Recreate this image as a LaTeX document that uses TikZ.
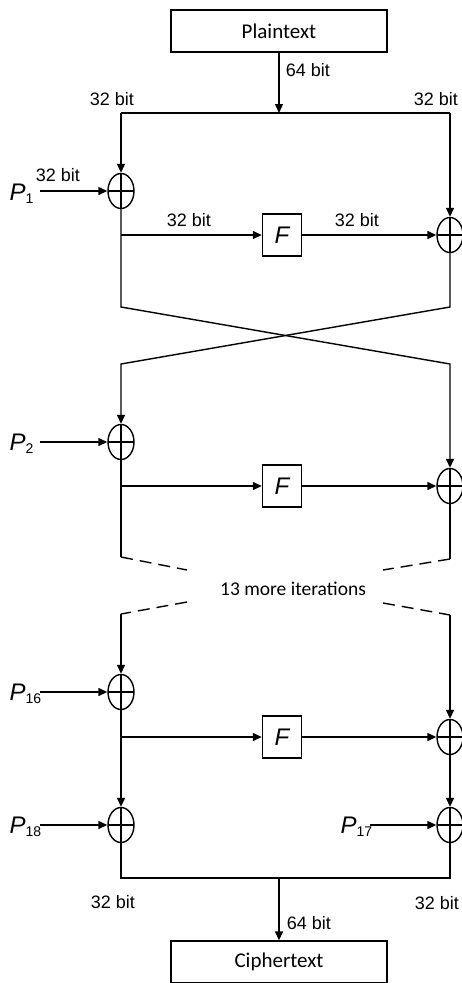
\documentclass[tikz,border=0pt]{standalone}
\usepackage{fontspec}
\setmainfont{Liberation Sans}
\newfontfamily\boxfont{Carlito}
\usetikzlibrary{shapes.geometric,arrows.meta,positioning,calc}

\newcommand{\pkey}[1]{\textit{P}\raisebox{-3pt}{\fontsize{14}{14}\selectfont #1}}

\begin{document}
\begin{tikzpicture}[x=1pt, y=-1pt,
    line width=1.4pt,
    >={Triangle[length=9pt,width=8pt]},
    text_box/.style={draw, minimum width=216pt, minimum height=42pt, font=\boxfont\fontsize{21}{24}\selectfont},
    f_box/.style={draw, minimum width=39pt, minimum height=42pt, font=\fontsize{24}{26}\selectfont\itshape},
    xor/.style={draw, ellipse, minimum width=26pt, minimum height=35pt, inner sep=0pt,
        path picture={\draw (path picture bounding box.north) -- (path picture bounding box.south)
                            (path picture bounding box.west) -- (path picture bounding box.east);}},
    bits/.style={font=\fontsize{18}{20}\selectfont, inner sep=0pt},
    key/.style={font=\fontsize{24}{26}\selectfont, inner sep=0pt, anchor=west},
    skip_edge/.style={dash pattern=on 12pt off 7pt}
]
    \useasboundingbox (0,0) rectangle (462,983);

    % --- Nodes ---
    % In and out
    \node[text_box] (plain) at (279,31) {Plaintext};
    \node[text_box] (cipher) at (279,962) {Ciphertext};

    % Round 1
    \node[xor] (x1l) at (121,191) {};
    \node[f_box] (f1) at (282,235) {F};
    \node[xor] (x1r) at (450,235) {};

    % Round 2
    \node[xor] (x2l) at (121,442) {};
    \node[f_box] (f2) at (282,486) {F};
    \node[xor] (x2r) at (450,486) {};

    % Round 16
    \node[xor] (x16l) at (121,692) {};
    \node[f_box] (f16) at (282,737) {F};
    \node[xor] (x16r) at (450,737) {};

    % Last keys
    \node[xor] (x18l) at (121,825) {};
    \node[xor] (x17r) at (450,825) {};

    % Keys
    \node[key] (p1) at (9,194) {\pkey{1}};
    \node[key] (p2) at (9,444) {\pkey{2}};
    \node[key] (p16) at (9,694) {\pkey{16}};
    \node[key] (p18) at (9,827) {\pkey{18}};
    \node[key] (p17) at (340,827) {\pkey{17}};

    \node[font=\boxfont\fontsize{19.5}{22}\selectfont] (more) at (293,589) {13 more iterations};

    % --- Coordinates ---
    \coordinate (split) at (279,113);
    \coordinate (tl) at (x1l |- split);
    \coordinate (tr) at (x1r |- split);
    \coordinate (in1) at (40,191);
    \coordinate (in2) at (40,442);
    \coordinate (in16) at (40,692);
    \coordinate (in18) at (40,825);
    \coordinate (in17) at (370,825);
    \coordinate (c1l) at (121,307);
    \coordinate (c1r) at (450,307);
    \coordinate (c2l) at (121,364);
    \coordinate (c2r) at (450,364);
    \coordinate (d1l) at (121,557);
    \coordinate (d1r) at (450,559);
    \coordinate (e1l) at (187,570);
    \coordinate (e1r) at (383,570);
    \coordinate (e2l) at (187,602);
    \coordinate (e2r) at (383,603);
    \coordinate (d2l) at (121,614);
    \coordinate (d2r) at (450,615);
    \coordinate (j1) at (121,878);
    \coordinate (j2) at (450,878);
    \coordinate (join) at (279,878);

    % --- Edges: top ---
    \draw[->] (plain) -- (split);
    \draw (tl) -- (tr);
    \draw[->] (tl) -- (x1l.north);
    \draw[->] (tr) -- (x1r.north);

    % --- Edges: round 1 ---
    \draw[->] (in1) -- (x1l.west);
    \draw[->] (x1l.south |- f1) -- (f1.west);
    \draw[->] (f1.east) -- (x1r.west);
    \draw[->] (x1l.south) -- (c1l) -- (c2r) -- (x2r.north);
    \draw[->] (x1r.south) -- (c1r) -- (c2l) -- (x2l.north);

    % --- Edges: round 2 ---
    \draw[->] (in2) -- (x2l.west);
    \draw[->] (x2l.south |- f2) -- (f2.west);
    \draw[->] (f2.east) -- (x2r.west);
    \draw (x2l.south) -- (d1l);
    \draw (x2r.south) -- (d1r);
    \draw[skip_edge] (d1l) -- (e1l);
    \draw[skip_edge] (d1r) -- (e1r);
    \draw[skip_edge] (e2l) -- (d2l);
    \draw[skip_edge] (e2r) -- (d2r);

    % --- Edges: round 16 ---
    \draw[->] (d2l) -- (x16l.north);
    \draw[->] (d2r) -- (x16r.north);
    \draw[->] (in16) -- (x16l.west);
    \draw[->] (x16l.south |- f16) -- (f16.west);
    \draw[->] (f16.east) -- (x16r.west);

    % --- Edges: output ---
    \draw[->] (x16l.south) -- (x18l.north);
    \draw[->] (x16r.south) -- (x17r.north);
    \draw[->] (in18) -- (x18l.west);
    \draw[->] (in17) -- (x17r.west);
    \draw (x18l.south) -- (j1) -- (j2) -- (x17r.south);
    \draw[->] (join) -- (cipher.north);

    % --- Labels ---
    \node[bits] at (308,70) {64 bit};
    \node[bits] at (112,99) {32 bit};
    \node[bits] at (436,99) {32 bit};
    \node[bits] at (58,175) {32 bit};
    \node[bits] at (189,220) {32 bit};
    \node[bits] at (357,220) {32 bit};
    \node[bits] at (113,902) {32 bit};
    \node[bits] at (437,903) {32 bit};
    \node[bits] at (309,923) {64 bit};

\end{tikzpicture}
\end{document}
